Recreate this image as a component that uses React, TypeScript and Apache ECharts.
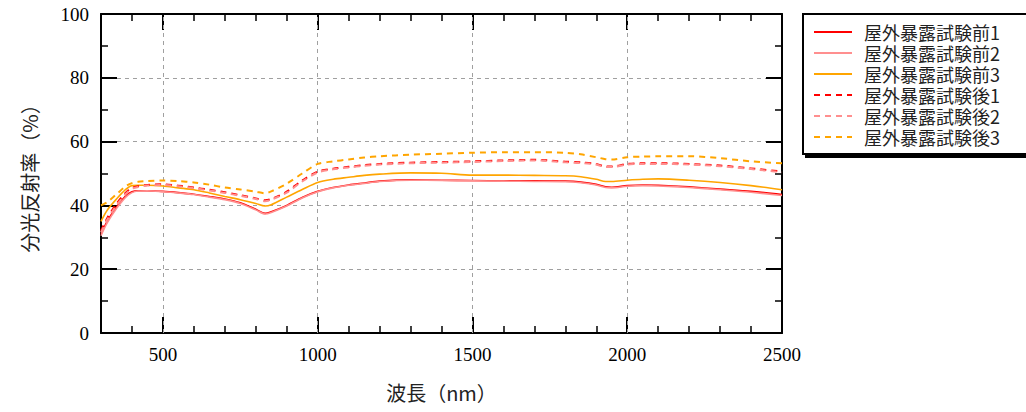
import React, { useEffect, useRef } from "react";
import * as echarts from "echarts";

const wavelengths = [300, 320, 350, 380, 400, 420, 450, 500, 550, 600, 650, 700, 750, 800, 830, 850, 900, 950, 1000, 1050, 1100, 1150, 1200, 1300, 1400, 1500, 1600, 1700, 1800, 1850, 1900, 1930, 1950, 2000, 2050, 2100, 2200, 2300, 2400, 2500];

const before1 = [31, 35, 39.5, 43, 44.3, 44.6, 44.6, 44.4, 44, 43.5, 42.8, 42, 40.8, 38.8, 37.5, 38, 40, 42.5, 44.4, 45.6, 46.4, 47, 47.6, 48, 47.9, 47.8, 47.7, 47.7, 47.6, 47.3, 46.6, 45.8, 45.7, 46.2, 46.4, 46.3, 45.8, 45.1, 44.4, 43.4];
const before2 = [30.5, 34.5, 39, 42.6, 44, 44.5, 44.6, 44.3, 43.9, 43.4, 42.6, 41.8, 40.6, 38.6, 37.3, 37.8, 39.8, 42.3, 44.3, 45.5, 46.3, 46.9, 47.5, 47.9, 47.8, 47.7, 47.6, 47.5, 47.4, 47.1, 46.4, 45.6, 45.5, 46, 46.2, 46.1, 45.6, 44.9, 44.1, 43.1];
const before3 = [35, 38.5, 42, 45, 46.2, 46.3, 46.3, 46.1, 45.5, 44.9, 43.9, 42.8, 41.8, 40.6, 39.8, 40.2, 42.6, 45, 47.2, 48.2, 48.8, 49.4, 49.8, 50.2, 50.1, 49.5, 49.5, 49.4, 49.3, 49, 48.2, 47.5, 47.5, 47.9, 48.2, 48.3, 47.9, 47.2, 46.2, 44.9];
const after1 = [32, 36, 40.5, 44, 45.5, 46, 46.4, 46.6, 46.2, 45.6, 44.9, 44.1, 43.2, 42.2, 41.6, 42, 44.3, 47.8, 50.6, 51.5, 52.1, 52.6, 53, 53.4, 53.6, 53.8, 54.1, 54.3, 53.7, 53.5, 53, 52.2, 52.2, 53, 53.2, 53.2, 53, 52.5, 51.6, 50.6];
const after2 = [31.5, 35.5, 40, 43.6, 45.2, 45.8, 46.2, 46.4, 46, 45.4, 44.7, 43.9, 43, 42, 41.3, 41.8, 44, 47.5, 50.3, 51.3, 51.9, 52.4, 52.8, 53.2, 53.4, 53.6, 53.9, 54.1, 53.5, 53.3, 52.8, 52, 52, 52.8, 53, 53, 52.8, 52.3, 51.4, 50.4];
const after3 = [40, 41, 43.5, 46, 47, 47.4, 47.6, 47.8, 47.6, 47.2, 46.5, 45.6, 45, 44.3, 43.8, 44.4, 46.8, 50, 53, 53.8, 54.4, 55, 55.4, 55.9, 56.2, 56.5, 56.7, 56.7, 56.5, 56, 55.1, 54.5, 54.4, 55.1, 55.3, 55.4, 55.4, 54.8, 53.8, 53.2];

const seriesNames = ["屋外暴露試験前1", "屋外暴露試験前2", "屋外暴露試験前3", "屋外暴露試験後1", "屋外暴露試験後2", "屋外暴露試験後3"];
const seriesValues = [before1, before2, before3, after1, after2, after3];
const seriesColors = ["#ff0000", "#ff8f8f", "#ffa500", "#ff0000", "#ff8f8f", "#ffa500"];
const seriesDashed = [false, false, false, true, true, true];

const xMajorTicks = [500, 1000, 1500, 2000];
const xLabelValues = [500, 1000, 1500, 2000, 2500];
const xGridValues = [500, 1000, 1500, 2000];

const xName = "波長（nm）";
const yName = "分光反射率（%）";

const NUM_FONT = "Liberation Serif";
const CJK_FONT = "Noto Sans CJK JP";

export default function App() {
  const ref = useRef<HTMLDivElement>(null);

  useEffect(() => {
    if (!ref.current) return;
    const chart = echarts.init(ref.current, null, { renderer: "svg" });

    const axisLineStyle = { color: "#000", width: 2 };
    const richNum = (v: number) => `{n|${v}}`;
    const numRich = { n: { fontFamily: NUM_FONT, fontSize: 19, color: "#000" } };

    const xBase = {
      type: "value",
      min: 300,
      max: 2500,
      interval: 100,
      splitLine: { show: false },
    };

    const option: any = {
      animation: false,
      backgroundColor: "#fff",
      grid: { left: 101, right: 244, top: 14, bottom: 79, containLabel: false },
      legend: {
        left: 803,
        top: 14,
        orient: "vertical",
        padding: [9, 30, 8, 10],
        itemGap: 3,
        itemWidth: 38,
        itemHeight: 14,
        itemStyle: { opacity: 0 },
        backgroundColor: "#fff",
        borderColor: "#000",
        borderWidth: 2,
        borderRadius: 0,
        shadowColor: "#000",
        shadowOffsetX: 3,
        shadowOffsetY: 3,
        shadowBlur: 0,
        textStyle: { fontFamily: CJK_FONT, fontSize: 18, lineHeight: 18, color: "#222", padding: [0, 0, 0, 7] },
        data: seriesNames,
      },
      xAxis: [
        {
          ...xBase,
          position: "bottom",
          axisLine: { show: true, lineStyle: axisLineStyle },
          axisTick: { show: true, inside: true, length: 7, lineStyle: { color: "#000", width: 1.5 } },
          axisLabel: {
            show: true,
            customValues: xLabelValues,
            formatter: richNum,
            rich: numRich,
            margin: 12,
            fontFamily: NUM_FONT,
            fontSize: 19,
            color: "#000",
          },
          name: xName,
          nameLocation: "middle",
          nameGap: 49,
          nameTextStyle: { fontFamily: CJK_FONT, fontSize: 20, color: "#222" },
        },
        {
          ...xBase,
          position: "bottom",
          axisLine: { show: false },
          axisTick: { show: true, inside: true, length: 16, customValues: xMajorTicks, lineStyle: { color: "#000", width: 2 } },
          axisLabel: { show: false },
        },
        {
          ...xBase,
          position: "top",
          axisLine: { show: true, lineStyle: axisLineStyle },
          axisTick: { show: true, inside: true, length: 7, lineStyle: { color: "#000", width: 1.5 } },
          axisLabel: { show: false },
        },
        {
          ...xBase,
          position: "top",
          axisLine: { show: false },
          axisTick: { show: true, inside: true, length: 16, customValues: xMajorTicks, lineStyle: { color: "#000", width: 2 } },
          axisLabel: { show: false },
        },
      ],
      yAxis: [
        {
          type: "value",
          position: "left",
          min: 0,
          max: 100,
          interval: 20,
          axisLine: { show: true, lineStyle: axisLineStyle },
          axisTick: { show: true, inside: true, length: 16, lineStyle: { color: "#000", width: 2 } },
          minorTick: { show: true, splitNumber: 2, length: 7, lineStyle: { color: "#000", width: 1.5 } },
          axisLabel: { margin: 12, formatter: richNum, rich: numRich, fontFamily: NUM_FONT, fontSize: 19, color: "#000" },
          splitLine: { show: true, lineStyle: { color: "#a0a0a0", width: 1, type: [4, 4] } },
          name: yName,
          nameLocation: "middle",
          nameRotate: 90,
          nameGap: 62,
          nameTextStyle: { fontFamily: CJK_FONT, fontSize: 20, color: "#222" },
        },
        {
          type: "value",
          position: "right",
          min: 0,
          max: 100,
          interval: 20,
          axisLine: { show: true, lineStyle: axisLineStyle },
          axisTick: { show: true, inside: true, length: 16, lineStyle: { color: "#000", width: 2 } },
          minorTick: { show: true, splitNumber: 2, length: 7, lineStyle: { color: "#000", width: 1.5 } },
          axisLabel: { show: false },
          splitLine: { show: false },
        },
      ],
      series: [
        {
          type: "line",
          name: "__grid",
          data: [],
          xAxisIndex: 0,
          yAxisIndex: 0,
          z: 1,
          markLine: {
            silent: true,
            symbol: "none",
            z: 1,
            label: { show: false },
            lineStyle: { color: "#a0a0a0", width: 1, type: [4, 4] },
            data: xGridValues.map((v) => ({ xAxis: v })),
          },
        },
        ...seriesNames.map((name, i) => ({
          type: "line",
          name,
          xAxisIndex: 0,
          yAxisIndex: 0,
          showSymbol: false,
          symbol: "none",
          smooth: 0.3,
          z: 3,
          color: seriesColors[i],
          lineStyle: {
            color: seriesColors[i],
            width: seriesDashed[i] ? 2 : 1.6,
            type: seriesDashed[i] ? [6, 5] : "solid",
          },
          data: wavelengths.map((w, j) => [w, seriesValues[i][j]]),
        })),
      ],
    };

    chart.setOption(option);
    return () => chart.dispose();
  }, []);

  return (
    <div
      ref={ref}
      style={{ position: "fixed", left: 0, top: 0, width: 1026, height: 412, background: "#fff" }}
    />
  );
}
